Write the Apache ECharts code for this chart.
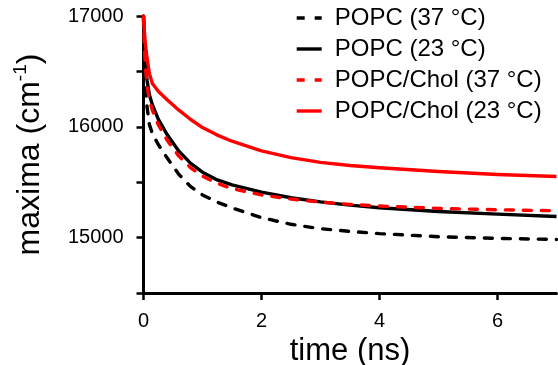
<!DOCTYPE html>
<html>
<head>
<meta charset="utf-8">
<script src="https://cdn.jsdelivr.net/npm/echarts@6/dist/echarts.min.js"></script>
<style>
html,body{margin:0;padding:0;background:#fff;}
#chart{width:558px;height:365px;}
</style>
</head>
<body>
<div id="chart"></div>
<script>
// time (ns)
var times  = [0, 0.01, 0.03, 0.06, 0.1, 0.15, 0.25, 0.4, 0.6, 0.8, 1, 1.25, 1.5, 2, 2.5, 3, 3.5, 4, 5, 6, 7];
// maxima (cm^-1)
var popc37 = [17000, 16700, 16400, 16180, 16020, 15940, 15840, 15720, 15570, 15460, 15385, 15320, 15268, 15180, 15120, 15080, 15056, 15036, 15008, 14993, 14983];
var popc23 = [17000, 16820, 16600, 16420, 16290, 16200, 16070, 15930, 15780, 15670, 15590, 15520, 15475, 15410, 15360, 15322, 15293, 15270, 15236, 15212, 15191];
var chol37 = [17000, 16800, 16560, 16370, 16240, 16150, 16020, 15880, 15735, 15630, 15555, 15490, 15442, 15385, 15348, 15320, 15300, 15285, 15264, 15251, 15242];
var chol23 = [17000, 16900, 16760, 16620, 16480, 16390, 16320, 16245, 16150, 16066, 15993, 15925, 15870, 15782, 15722, 15679, 15651, 15631, 15596, 15570, 15551];
var seriesNames = ['POPC (37 °C)', 'POPC (23 °C)', 'POPC/Chol (37 °C)', 'POPC/Chol (23 °C)'];
var xTicks = [0, 2, 4, 6];
var yLabels = [15000, 16000, 17000];

function pairs(vals) { return times.map(function (t, i) { return [t, vals[i]]; }); }

var font = 'Liberation Sans, Arial, Helvetica, sans-serif';
var chart = echarts.init(document.getElementById('chart'), null, {renderer: 'canvas'});

function dashOf(d) { return d ? [8, 10] : 'solid'; }
function mk(name, vals, color, dashed) {
  return {
    name: name, type: 'line', data: pairs(vals),
    showSymbol: false, symbol: 'none', smooth: false,
    lineStyle: {color: color, width: 3.4, type: dashOf(dashed), cap: dashed ? 'round' : 'butt', join: 'round'},
    itemStyle: {color: color},
    animation: false
  };
}
var colors = ['#000000', '#000000', '#ff0000', '#ff0000'];
var dashed = [true, false, true, false];

chart.setOption({
  animation: false,
  grid: {left: 143.5, right: 1.5, top: 16, bottom: 72, containLabel: false, outerBoundsMode: 'none'},
  legend: {
    orient: 'vertical', left: 295, top: 6, itemGap: 7, padding: 0,
    itemWidth: 25, itemHeight: 14,
    itemStyle: {opacity: 0},
    textStyle: {fontFamily: font, fontSize: 24, color: '#000', lineHeight: 23, padding: [0, 0, 0, 8]},
    data: seriesNames.map(function (n, i) {
      return {name: n, itemStyle: {opacity: 0},
        lineStyle: {color: colors[i], width: 3.4, type: dashOf(dashed[i]), cap: 'butt', opacity: 1}};
    })
  },
  xAxis: {
    type: 'value', min: 0, max: 7, interval: 1,
    name: 'time (ns)', nameLocation: 'middle', nameGap: 42,
    nameTextStyle: {fontFamily: font, fontSize: 31, color: '#000'},
    axisLine: {lineStyle: {color: '#000', width: 3}},
    axisTick: {show: true, length: 7, lineStyle: {color: '#000', width: 2.5},
      customValues: xTicks},
    axisLabel: {fontFamily: font, fontSize: 20, color: '#000', margin: 18,
      customValues: xTicks},
    splitLine: {show: false}
  },
  yAxis: {
    type: 'value', min: 14500, max: 17000, interval: 500,
    name: '{a|maxima (cm}{s|-1}{a|)}', nameLocation: 'middle', nameGap: 94, nameRotate: 90,
    nameTextStyle: {fontFamily: font, color: '#000',
      rich: {
        a: {fontFamily: font, fontSize: 32, color: '#000', lineHeight: 38, verticalAlign: 'middle'},
        s: {fontFamily: font, fontSize: 19, color: '#000', lineHeight: 20, verticalAlign: 'top'}
      }},
    axisLine: {show: true, lineStyle: {color: '#000', width: 3}},
    axisTick: {show: true, length: 7, lineStyle: {color: '#000', width: 2.5}},
    axisLabel: {fontFamily: font, fontSize: 20, color: '#000', margin: 20,
      formatter: function (v) { return yLabels.indexOf(v) >= 0 ? String(v) : ''; }},
    splitLine: {show: false}
  },
  series: seriesNames.map(function (n, i) {
    return mk(n, [popc37, popc23, chol37, chol23][i], colors[i], dashed[i]);
  })
});
</script>
</body>
</html>
